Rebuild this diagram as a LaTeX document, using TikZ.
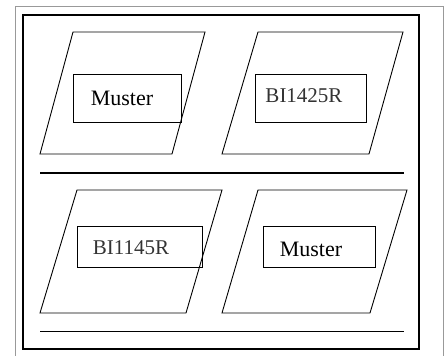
\documentclass[tikz,border=0pt]{standalone}
\usepackage{fontspec}
\setmainfont{Liberation Serif}
\begin{document}
\begin{tikzpicture}[x=1pt,y=-1pt,
  frame/.style={draw=black,line width=1.8pt},
  outer/.style={draw=black!40,line width=1pt},
  rule/.style={draw=black,line width=1.2pt},
  para/.style={draw=black,line width=0.9pt},
  label/.style={draw=black,line width=0.9pt,rectangle,inner sep=0pt,anchor=north west},
  big/.style={font=\fontsize{22}{24}\selectfont},
  code/.style={font=\fontsize{21}{23}\selectfont,text=black!80}]
\useasboundingbox (0,0) rectangle (445,356);
% window outline
\draw[outer] (15,360) -- (15,6) -- (443,6) -- (443,360);
% sheet frame
\draw[frame] (23,15) rectangle (419,349);
% horizontal rules
\coordinate (r1a) at (40,173); \coordinate (r1b) at (404,173);
\coordinate (r2a) at (40,331); \coordinate (r2b) at (404,331);
\draw[rule] (r1a) -- (r1b);
\draw[line width=0.9pt] (r2a) -- (r2b);
% parallelograms
\draw[para] (73,32) -- (205,32) -- (172,154) -- (40,154) -- cycle;
\draw[para] (258,32) -- (403,32) -- (369,154) -- (222,154) -- cycle;
\draw[para] (77,190) -- (222,190) -- (186,313) -- (40,313) -- cycle;
\draw[para] (258,190) -- (407,190) -- (370,313) -- (222,313) -- cycle;
% labelled boxes
\node[label,minimum width=108pt,minimum height=48pt] (b1) at (73,74) {};
\node[big] (t1) at (122,98) {Muster};
\node[label,minimum width=111pt,minimum height=48pt] (b2) at (255,74) {};
\node[code] (t2) at (304,96) {BI1425R};
\node[label,minimum width=125pt,minimum height=41pt] (b3) at (77,226) {};
\node[code] (t3) at (131,248) {BI1145R};
\node[label,minimum width=112pt,minimum height=41pt] (b4) at (263,226) {};
\node[big] (t4) at (311,249) {Muster};
\end{tikzpicture}
\end{document}
